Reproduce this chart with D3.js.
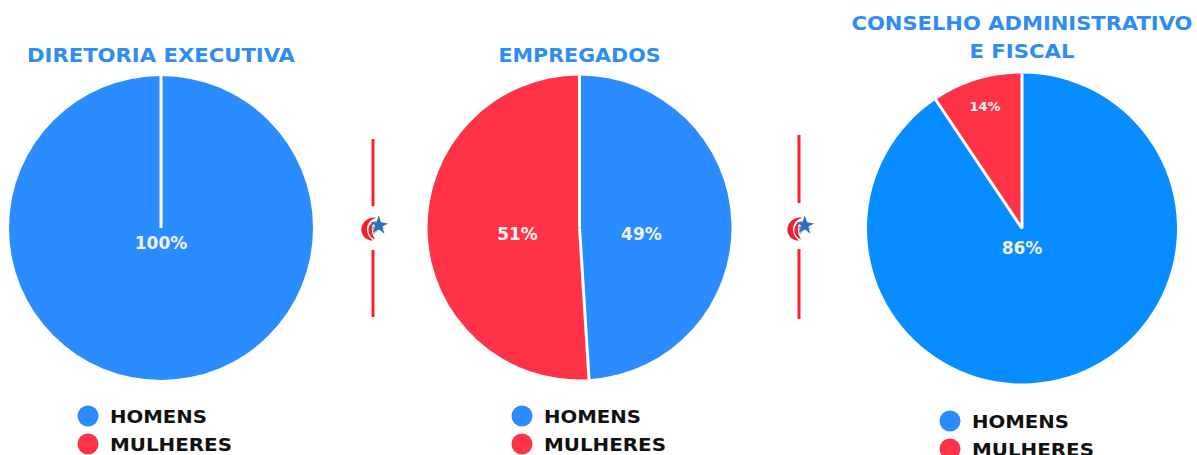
<!DOCTYPE html>
<html>
<head>
<meta charset="utf-8">
<script src="https://cdn.jsdelivr.net/npm/d3@7"></script>
<style>
  html, body { margin: 0; padding: 0; background: #fff; }
  svg { display: block; }
</style>
</head>
<body>
<div id="viz"></div>
<script>
// chart data
const categories = ["HOMENS", "MULHERES"];
const titles = [["DIRETORIA EXECUTIVA"], ["EMPREGADOS"], ["CONSELHO ADMINISTRATIVO", "E FISCAL"]];
const diretoriaValues = [100, 0];
const empregadosValues = [49, 51];
// slice sizes as drawn in the picture (the labels say 86 / 14)
const conselhoValues = [90.6, 9.4];
const diretoriaLabels = ["100%", ""];
const empregadosLabels = ["49%", "51%"];
const conselhoLabels = ["86%", "14%"];

const width = 1197, height = 455;

const svg = d3.select("#viz").append("svg")
    .attr("width", width)
    .attr("height", height)
    .style("font-family", "'DejaVu Sans', sans-serif");

// layout of each chart
const charts = [
    { cx: 161, cy: 228, r: 152, values: diretoriaValues, labels: diretoriaLabels, title: titles[0],
      titleY: [62], titleW: [268], blue: "#2b8cff",
      labelPos: [[0, 15]], labelSize: [17], legendX: 88, legendY: 416 },
    { cx: 579.5, cy: 227.5, r: 152, values: empregadosValues, labels: empregadosLabels, title: titles[1],
      titleY: [62], titleW: [162], blue: "#2b8cff",
      labelPos: null, labelR: 62, labelSize: [17, 17], legendX: 522, legendY: 416 },
    { cx: 1022, cy: 228.5, r: 155, values: conselhoValues, labels: conselhoLabels, title: titles[2],
      titleY: [30, 58], titleW: [341, 105], blue: "#078dff",
      labelPos: [[0, 20], [-37, -122]], labelSize: [17, 13], legendX: 950, legendY: 421 }
];

const red = "#ff3347";

const pie = d3.pie().sort(null).value(d => d);

charts.forEach(c => {
    const g = svg.append("g").attr("transform", `translate(${c.cx},${c.cy})`);
    const arc = d3.arc().innerRadius(0).outerRadius(c.r);
    const arcs = pie(c.values);
    const color = d3.scaleOrdinal().domain([0, 1]).range([c.blue, red]);

    g.selectAll("path.slice")
        .data(arcs)
        .enter()
        .append("path")
        .attr("class", "slice")
        .attr("d", arc)
        .attr("fill", (d, i) => color(i));

    // white seams at slice boundaries
    g.selectAll("line.seam")
        .data(arcs.filter(d => d.endAngle - d.startAngle > 0))
        .enter()
        .append("line")
        .attr("class", "seam")
        .attr("x1", 0).attr("y1", 0)
        .attr("x2", d => c.r * Math.sin(d.startAngle))
        .attr("y2", d => -c.r * Math.cos(d.startAngle))
        .attr("stroke", "#fff")
        .attr("stroke-width", 3);

    // percentage labels
    const labelArc = d3.arc().innerRadius(c.labelR || 0).outerRadius(c.labelR || 0);
    arcs.forEach((d, i) => {
        if (!c.labels[i]) return;
        let p;
        if (c.labelPos) p = c.labelPos[i];
        else { p = labelArc.centroid(d); p = [p[0], 7]; }
        g.append("text")
            .attr("x", p[0])
            .attr("y", p[1])
            .attr("dy", "0.35em")
            .attr("text-anchor", "middle")
            .attr("fill", "#f2f2f2")
            .style("font-weight", "bold")
            .style("font-size", c.labelSize[i] + "px")
            .text(c.labels[i]);
    });

    // title
    c.title.forEach((t, i) => {
        svg.append("text")
            .attr("x", c.cx)
            .attr("y", c.titleY[i])
            .attr("text-anchor", "middle")
            .attr("fill", "#2e8df5")
            .attr("textLength", c.titleW[i])
            .attr("lengthAdjust", "spacingAndGlyphs")
            .style("font-weight", "bold")
            .style("font-size", "20px")
            .text(t);
    });

    // legend
    const lg = svg.append("g").attr("transform", `translate(${c.legendX},${c.legendY})`);
    categories.forEach((cat, i) => {
        lg.append("circle")
            .attr("cx", 0).attr("cy", i * 28)
            .attr("r", 10.5)
            .attr("fill", i === 0 ? "#2b8cff" : red);
        lg.append("text")
            .attr("x", 22)
            .attr("y", i * 28 + 6.5)
            .attr("fill", "#111")
            .attr("textLength", i === 0 ? 97 : 122)
            .attr("lengthAdjust", "spacingAndGlyphs")
            .style("font-weight", "bold")
            .style("font-size", "18px")
            .text(cat);
    });
});

// separators with small logo
const separators = [
    { x: 373, top: [139, 206], bottom: [250, 317], logoY: 228 },
    { x: 799, top: [135, 203], bottom: [249, 319], logoY: 228 }
];

separators.forEach(s => {
    [s.top, s.bottom].forEach(seg => {
        svg.append("line")
            .attr("x1", s.x).attr("x2", s.x)
            .attr("y1", seg[0]).attr("y2", seg[1])
            .attr("stroke", "#ff1f2d")
            .attr("stroke-width", 3);
    });
    const logo = svg.append("g").attr("transform", `translate(${s.x},${s.logoY}) scale(1.15)`);
    // red swooshes
    logo.append("path")
        .attr("d", "M3,-9 C-6,-10 -11,-3 -10,3 C-9,8 -5,11 0,11 C-4,8 -6,3 -5,-1 C-4,-6 0,-8 3,-9 Z")
        .attr("fill", "#f0202c");
    logo.append("path")
        .attr("d", "M4,-6 C-1,-6 -4,-2 -4,2 C-4,6 -1,9 2,10 C0,7 -1,4 -1,1 C-1,-3 1,-5 4,-6 Z")
        .attr("fill", "#f0202c");
    // blue star and wing
    logo.append("path")
        .attr("d", "M-1,-1 C3,-3 8,-2 11,1 C7,0 3,2 1,6 Z")
        .attr("fill", "#8fb0e0");
    logo.append("path")
        .attr("d", "M5,-11 L7,-5 L13,-4 L8,-1 L10,5 L5,1 L0,4 L2,-2 L-2,-5 L3,-5 Z")
        .attr("fill", "#2d6fc0");
});
</script>
</body>
</html>
